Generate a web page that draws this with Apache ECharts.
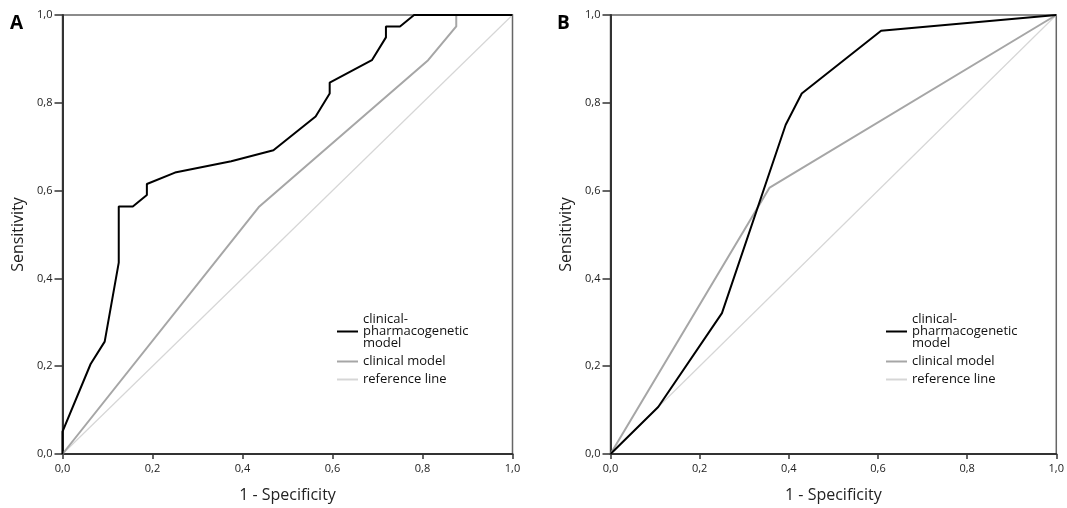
<!DOCTYPE html>
<html>
<head>
<meta charset="utf-8">
<script src="https://cdn.jsdelivr.net/npm/echarts@6/dist/echarts.min.js"></script>
<style>
html,body{margin:0;padding:0;background:#fff;}
#chart{width:1067px;height:508px;}
</style>
</head>
<body>
<div id="chart"></div>
<script>
// ---- data ----
const tickValues = [0, 0.2, 0.4, 0.6, 0.8, 1.0];
const tickLabels = ['0,0', '0,2', '0,4', '0,6', '0,8', '1,0'];

const seriesNames = ['clinical-\npharmacogenetic\nmodel', 'clinical model', 'reference line'];

// Panel A: clinical-pharmacogenetic model
const aPgX = [0, 0, 0.0625, 0.09375, 0.125, 0.125, 0.15625, 0.1875, 0.1875, 0.25, 0.375, 0.46875, 0.5625, 0.59375, 0.59375, 0.6875, 0.71875, 0.71875, 0.75, 0.78125, 1.0];
const aPgY = [0, 0.051, 0.205, 0.256, 0.436, 0.564, 0.564, 0.590, 0.615, 0.641, 0.667, 0.692, 0.769, 0.821, 0.846, 0.897, 0.949, 0.974, 0.974, 1.0, 1.0];
// Panel A: clinical model
const aClX = [0, 0.4375, 0.8125, 0.875, 0.875, 1.0];
const aClY = [0, 0.564, 0.897, 0.974, 1.0, 1.0];

// Panel B: clinical-pharmacogenetic model
const bPgX = [0, 0.107, 0.250, 0.393, 0.429, 0.607, 1.0];
const bPgY = [0, 0.107, 0.321, 0.750, 0.821, 0.964, 1.0];
// Panel B: clinical model
const bClX = [0, 0.357, 1.0];
const bClY = [0, 0.607, 1.0];

// reference line
const refX = [0, 1];
const refY = [0, 1];

// ---- build ----
const pairs = (xs, ys) => xs.map((x, i) => [x, ys[i]]);
const fmt = v => { const i = tickValues.findIndex(t => Math.abs(t - v) < 1e-9); return i >= 0 ? tickLabels[i] : ''; };
const FONT = '"Open Sans", "Noto Sans", sans-serif';

const grids = [
  { left: 62.5, top: 15, width: 450, height: 440 },
  { left: 610.5, top: 15, width: 448, height: 440 }
];

function xAxis(g) {
  return {
    gridIndex: g, type: 'value', min: 0, max: 1, interval: 0.2,
    name: '1 - Specificity', nameLocation: 'middle', nameGap: 33,
    nameTextStyle: { fontFamily: FONT, fontSize: 16, color: '#222' },
    axisLine: { show: true, onZero: false, lineStyle: { color: '#333', width: 2 } },
    axisTick: { show: true, length: 5, lineStyle: { color: '#333', width: 1.5 } },
    axisLabel: { formatter: fmt, fontFamily: FONT, fontSize: 11, color: '#222', margin: 9 },
    splitLine: { show: false }
  };
}
function yAxis(g) {
  return {
    gridIndex: g, type: 'value', min: 0, max: 1, interval: 0.2,
    name: 'Sensitivity', nameLocation: 'middle', nameGap: 36, nameRotate: 90,
    nameTextStyle: { fontFamily: FONT, fontSize: 16, color: '#222' },
    axisLine: { show: true, onZero: false, lineStyle: { color: '#333', width: 2 } },
    axisTick: { show: true, length: 8, lineStyle: { color: '#333', width: 1.5 } },
    axisLabel: { formatter: fmt, fontFamily: FONT, fontSize: 11, color: '#222', margin: 10 },
    splitLine: { show: false }
  };
}
function line(name, data, g, color, width, z) {
  return {
    name: name, type: 'line', xAxisIndex: g, yAxisIndex: g, data: data,
    symbol: 'none', smooth: false, animation: false, z: z,
    lineStyle: { color: color, width: width }, itemStyle: { color: color }
  };
}
function legend(left) {
  return {
    orient: 'vertical', left: left, top: 308, itemWidth: 21, itemHeight: 12, itemGap: 5,
    icon: 'path://M0,5 L21,5 L21,7 L0,7 Z',
    data: seriesNames.map(n => ({ name: n })),
    textStyle: { fontFamily: FONT, fontSize: 13, color: '#111', lineHeight: 12, padding: [0, 0, 0, 0] },
    selectedMode: false
  };
}

const option = {
  backgroundColor: '#fff',
  animation: false,
  grid: grids.map(g => Object.assign({ show: true, borderColor: '#666', borderWidth: 1.5, backgroundColor: 'transparent' }, g)),
  xAxis: [xAxis(0), xAxis(1)],
  yAxis: [yAxis(0), yAxis(1)],
  legend: [legend(332), legend(881)],
  series: [
    line(seriesNames[2], pairs(refX, refY), 0, '#d6d6d6', 1.2, 1),
    line(seriesNames[1], pairs(aClX, aClY), 0, '#a6a6a6', 2, 2),
    line(seriesNames[0], pairs(aPgX, aPgY), 0, '#000000', 2, 3),
    line(seriesNames[2], pairs(refX, refY), 1, '#d6d6d6', 1.2, 1),
    line(seriesNames[1], pairs(bClX, bClY), 1, '#a6a6a6', 2, 2),
    line(seriesNames[0], pairs(bPgX, bPgY), 1, '#000000', 2, 3)
  ],
  graphic: [
    { type: 'text', left: 10, top: 14, style: { text: 'A', font: 'bold 19px "Open Sans", sans-serif', fill: '#000' } },
    { type: 'text', left: 557, top: 14, style: { text: 'B', font: 'bold 19px "Open Sans", sans-serif', fill: '#000' } }
  ]
};

const chart = echarts.init(document.getElementById('chart'), null, { renderer: 'canvas' });
chart.setOption(option);
</script>
</body>
</html>
